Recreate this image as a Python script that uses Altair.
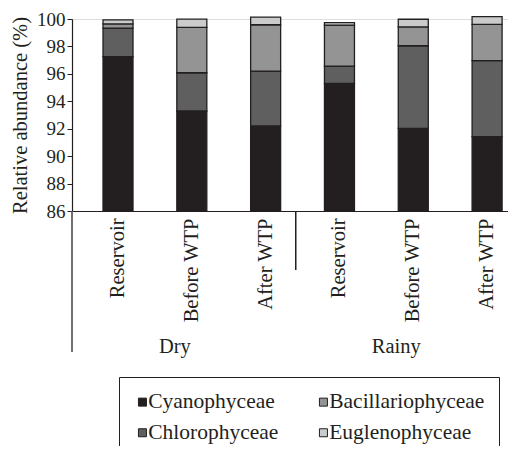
import altair as alt
import pandas as pd

# ---- data ----
seasons = ["Dry", "Dry", "Dry", "Rainy", "Rainy", "Rainy"]
sites = ["Reservoir", "Before WTP", "After WTP", "Reservoir", "Before WTP", "After WTP"]
cyano = [97.25, 93.29, 92.20, 95.31, 92.03, 91.42]
chloro = [2.09, 2.79, 4.00, 1.26, 6.02, 5.54]
bacil = [0.30, 3.31, 3.38, 2.99, 1.37, 2.65]
eugl = [0.30, 0.60, 0.55, 0.17, 0.56, 0.56]

groups = ["Cyanophyceae", "Chlorophyceae", "Bacillariophyceae", "Euglenophyceae"]
colors = ["#231f20", "#5f5f5f", "#949494", "#cbcbcb"]
group_labels = ["Dry", "Rainy"]
y_ticks = [86, 88, 90, 92, 94, 96, 98, 100]

keys = [f"{s}|{t}" for s, t in zip(seasons, sites)]
rows = []
for i, k in enumerate(keys):
    for j, (g, vals) in enumerate(zip(groups, [cyano, chloro, bacil, eugl])):
        rows.append({"key": k, "group": g, "order": j, "value": vals[i]})
df = pd.DataFrame(rows)

FONT = "Times New Roman, Liberation Serif, Times, serif"
W, H = 436, 192

x_scale = alt.Scale(domain=keys, paddingInner=0.5935, paddingOuter=0.25, align=0.84)

bars = (
    alt.Chart(df)
    .transform_stack(stack="value", groupby=["key"], as_=["lo", "hi"],
                     sort=[alt.SortField("order", order="ascending")])
    .transform_calculate(lo2="max(datum.lo, 86)")
    .mark_bar(stroke="#231f20", strokeWidth=1.3)
    .encode(
        x=alt.X("key:N", scale=x_scale, sort=keys,
                axis=alt.Axis(title=None, labelAngle=-90, ticks=False,
                              labelExpr="split(datum.label, '|')[1]",
                              labelFont=FONT, labelFontSize=20.5, labelColor="#231f20",
                              labelPadding=7, domainColor="#231f20", domainWidth=1.2)),
        y=alt.Y("lo2:Q", scale=alt.Scale(domain=[86, 100], nice=False, zero=False),
                axis=alt.Axis(title="Relative abundance (%)", values=y_ticks,
                              grid=False, tickSize=5, tickColor="#231f20",
                              domainColor="#231f20", domainWidth=1.2,
                              labelFont=FONT, labelFontSize=19, labelColor="#231f20",
                              labelPadding=2,
                              titleFont=FONT, titleFontSize=20.5, titleFontWeight="normal",
                              titleColor="#231f20", titlePadding=6)),
        y2="hi:Q",
        color=alt.Color("group:N",
                        scale=alt.Scale(domain=groups, range=colors),
                        legend=alt.Legend(title=None, orient="none", legendX=47, legendY=358,
                                          columns=2, columnPadding=35, rowPadding=8,
                                          padding=14, strokeColor="#231f20",
                                          fillColor="white",
                                          symbolType="square", symbolSize=64,
                                          symbolOffset={"expr": "-1.3"},
                                          symbolStrokeColor="#231f20", symbolStrokeWidth=1,
                                          labelFont=FONT, labelFontSize=21.5,
                                          labelColor="#231f20",
                                          labelOffset={"expr": "-5"})),
    )
)

gdf = pd.DataFrame({"label": group_labels, "key": [keys[1], keys[4]]})
gtext = (
    alt.Chart(gdf)
    .mark_text(font=FONT, fontSize=20.5, color="#231f20", baseline="alphabetic", dx=-17)
    .encode(x=alt.X("key:N", scale=x_scale, sort=keys), y=alt.value(334), text="label:N")
)

axis_ext = alt.Chart(gdf).mark_rule(color="#555555", strokeWidth=1.2).encode(
    x=alt.value(0), y=alt.value(H), y2=alt.value(333))
sep = alt.Chart(gdf).mark_rule(color="#231f20", strokeWidth=1.2).encode(
    x=alt.value(223.7), y=alt.value(H), y2=alt.value(251))

chart = (
    alt.layer(bars, gtext, axis_ext, sep)
    .properties(width=W, height=H,
                autosize=alt.AutoSizeParams(type="none"),
                padding={"left": 64, "top": 11, "right": 0, "bottom": 235})
    .configure_view(stroke=None)
    .configure(font=FONT)
)

chart.save("out.html", embed_options={"renderer": "svg", "actions": False})
